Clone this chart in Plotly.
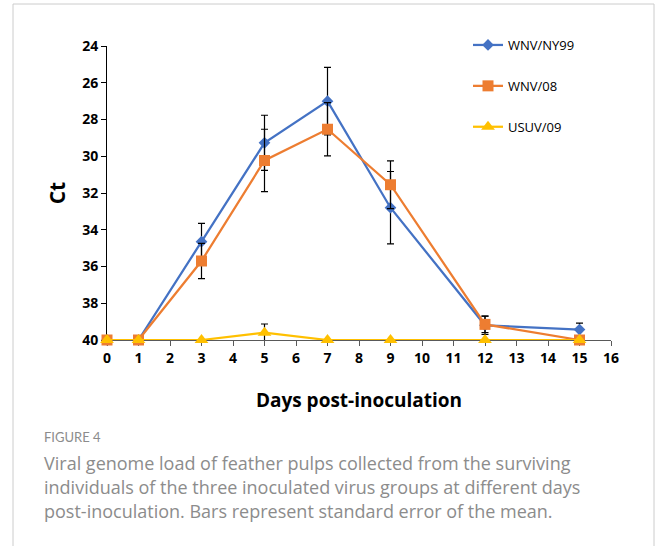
import plotly.graph_objects as go

days = [0, 1, 3, 5, 7, 9, 12, 15]
ny99 = [40, 40, 34.65, 29.27, 27.0, 32.8, 39.2, 39.43]
ny99_err = [0, 0, 1.0, 1.5, 1.84, 1.97, 0.5, 0.35]
wnv08 = [40, 40, 35.7, 30.23, 28.53, 31.55, 39.15, 40]
wnv08_err = [0, 0, 0.96, 1.7, 1.45, 1.3, 0.45, 0]
usuv09 = [40, 40, 40, 39.6, 40, 40, 40, 40]
usuv09_err = [0, 0, 0, 0.47, 0, 0, 0, 0]

y_ticks = list(range(24, 41, 2))
x_ticks = list(range(0, 17))

W, H = 658, 546
L, R, T, B = 107, 611, 46, 340


def px(x):
    return (x - L) / (R - L)


def py(y):
    return (B - y) / (B - T)


fig = go.Figure()

series = [
    ("WNV/NY99", ny99, ny99_err, "#4472C4", "diamond", 9),
    ("WNV/08", wnv08, wnv08_err, "#ED7D31", "square", 11),
    ("USUV/09", usuv09, usuv09_err, "#FFC000", "triangle-up", 12),
]
for i, (name, vals, err, col, sym, sz) in enumerate(series):
    fig.add_trace(go.Scatter(
        x=days, y=vals, name=name, mode="lines+markers",
        line=dict(color=col, width=2.25),
        marker=dict(color=col, symbol=sym, size=sz),
        error_y=dict(type="data", array=err, visible=True,
                     color="black", thickness=1.2, width=3.5),
        cliponaxis=False, legendgroup=f"g{i}",
    ))

fig.update_xaxes(
    range=[0, 16], tickmode="array", tickvals=x_ticks,
    ticktext=[str(v) for v in x_ticks],
    showgrid=False, zeroline=False, showline=True, linecolor="#595959",
    linewidth=1, ticks="outside", ticklen=5, tickcolor="#595959",
    layer="below traces",
    tickfont=dict(family="Open Sans", size=14, color="black", weight="bold"),
    title=dict(text="<b>Days post-inoculation</b>",
               font=dict(family="Open Sans", size=19, color="black"),
               standoff=27),
)
fig.update_yaxes(
    range=[40, 24], tickmode="array", tickvals=y_ticks,
    ticktext=[str(v) for v in y_ticks],
    showgrid=False, zeroline=False, showline=True, linecolor="black",
    linewidth=1, ticks="outside", ticklen=5, tickcolor="black",
    layer="below traces",
    tickfont=dict(family="Open Sans", size=14, color="black", weight="bold"),
    title=dict(text="<b>Ct</b>",
               font=dict(family="Open Sans", size=21, color="black"),
               standoff=10),
)

fig.update_layout(
    width=W, height=H,
    margin=dict(l=L, r=W - R, t=T, b=H - B, autoexpand=False),
    paper_bgcolor="white", plot_bgcolor="white",
    showlegend=True,
    legend=dict(x=px(468), y=py(30), xanchor="left", yanchor="top",
                font=dict(family="Open Sans", size=13, color="black"),
                tracegroupgap=21, bgcolor="rgba(0,0,0,0)"),
)

# card border
fig.add_shape(type="line", xref="paper", yref="paper",
              x0=px(13), x1=px(654), y0=py(4), y1=py(4),
              line=dict(color="#cccccc", width=1))
fig.add_shape(type="line", xref="paper", yref="paper",
              x0=px(13), x1=px(13), y0=py(4), y1=py(560),
              line=dict(color="#cccccc", width=1))
fig.add_shape(type="line", xref="paper", yref="paper",
              x0=px(654), x1=px(654), y0=py(4), y1=py(560),
              line=dict(color="#cccccc", width=1))

fig.add_annotation(text="FIGURE 4", xref="paper", yref="paper",
                   x=px(42), y=py(437), xanchor="left", yanchor="middle",
                   showarrow=False,
                   font=dict(family="Lato", size=13, color="#8c8c8c"))
caption = ["Viral genome load of feather pulps collected from the surviving",
           "individuals of the three inoculated virus groups at different days",
           "post-inoculation. Bars represent standard error of the mean."]
for k, line in enumerate(caption):
    fig.add_annotation(text=line, xref="paper", yref="paper",
                       x=px(42), y=py(463 + 24 * k), xanchor="left",
                       yanchor="middle", showarrow=False,
                       font=dict(family="Open Sans", size=18, color="#8c8c8c"))

fig.write_html("out.html", config={"displayModeBar": False},
               post_script="document.body.style.margin='0';")
